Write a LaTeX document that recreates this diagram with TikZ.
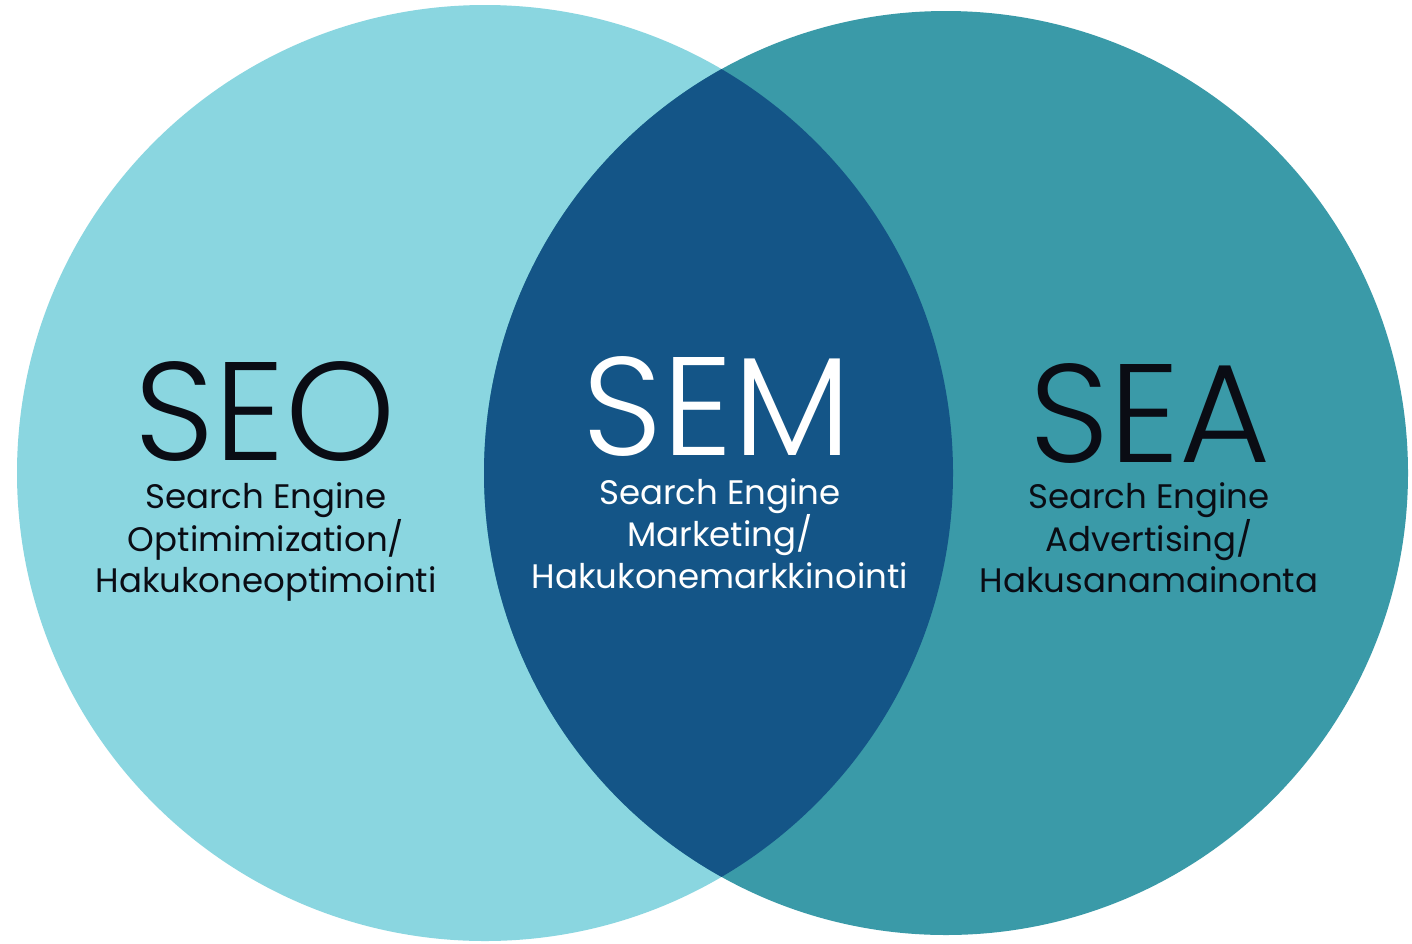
\documentclass[tikz,border=0pt]{standalone}
\usepackage{fontspec}
\setmainfont{Poppins}[UprightFont=* Light]
\newfontfamily\subfont{Poppins}
\definecolor{seoc}{RGB}{138,214,224}
\definecolor{seac}{RGB}{58,154,168}
\definecolor{semc}{RGB}{20,85,135}
\definecolor{inkc}{RGB}{10,12,20}
\tikzset{
  big/.style={anchor=base,inner sep=0pt,font=\fontsize{140}{140}\selectfont},
  sub/.style={anchor=base,inner sep=0pt,font=\subfont\fontsize{34}{40}\selectfont},
}
\begin{document}
\begin{tikzpicture}[x=1pt,y=-1pt]
\useasboundingbox (0,0) rectangle (1412,943);
\fill[white] (0,0) rectangle (1412,943);
\fill[seoc] (485,473) circle (468pt);
\fill[seac] (946,473) circle (462pt);
\begin{scope}
  \clip (485,473) circle (468pt);
  \fill[semc] (946,473) circle (462pt);
\end{scope}
% SEO
\node[big,text=inkc] (seo) at (265,460) {SEO};
\node[sub,text=inkc] (seo1) at (266,508) {Search Engine};
\node[sub,text=inkc] (seo2) at (266,551) {Optimimization/};
\node[sub,text=inkc] (seo3) at (266,592) {Hakukoneoptimointi};
% SEM
\node[big,text=white] (sem) at (717,455) {SEM};
\node[sub,text=white] (sem1) at (720,504) {Search Engine};
\node[sub,text=white] (sem2) at (720,546) {Marketing/};
\node[sub,text=white] (sem3) at (720,588) {Hakukonemarkkinointi};
% SEA
\node[big,text=inkc] (sea) at (1150,462) {SEA};
\node[sub,text=inkc] (sea1) at (1149,508) {Search Engine};
\node[sub,text=inkc] (sea2) at (1149,551) {Advertising/};
\node[sub,text=inkc] (sea3) at (1149,592) {Hakusanamainonta};
\end{tikzpicture}
\end{document}
